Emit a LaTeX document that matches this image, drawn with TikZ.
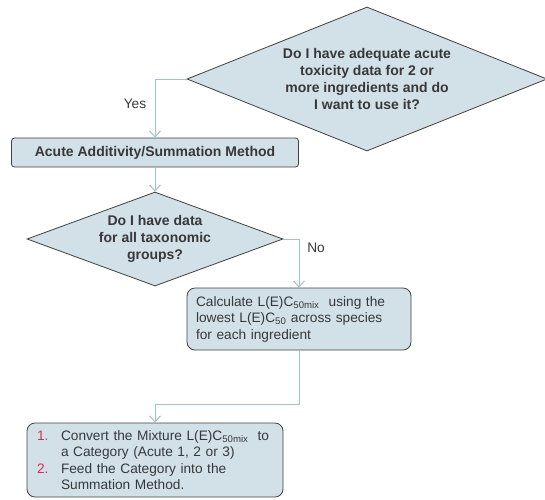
\documentclass[tikz,border=0pt]{standalone}
\usepackage{fontspec}
\setmainfont{Liberation Sans}
\usetikzlibrary{shapes.geometric,arrows.meta}
\definecolor{boxfill}{HTML}{D2E1E8}
\definecolor{boxline}{HTML}{404040}
\definecolor{flow}{HTML}{9DC3D2}
\definecolor{txt}{HTML}{383838}
\definecolor{numred}{HTML}{E0285A}
\tikzset{
  shapebase/.style={fill=boxfill, draw=boxline, line width=0.8pt, text=txt, inner sep=0pt,
    font=\fontsize{13.7}{16.5}\selectfont},
  decision/.style={shapebase, diamond, font=\bfseries\fontsize{14}{17}\selectfont, align=center},
  stepbox/.style={shapebase, rectangle, rounded corners=#1},
  flowline/.style={draw=flow, line width=1pt, -{Straight Barb[length=6pt,width=11pt,line width=1pt]}},
  plainline/.style={draw=flow, line width=1pt},
  lbl/.style={text=txt, font=\fontsize{13.7}{15}\selectfont}
}
\begin{document}
\begin{tikzpicture}[x=1pt,y=-1pt]
\useasboundingbox (0,0) rectangle (545,499);

% first decision
\node[decision, aspect=2.5, minimum width=360pt, minimum height=144pt] (d1) at (367,79)
  {Do I have adequate acute\\toxicity data for 2 or\\more ingredients and do\\I want to use it?};

% summation method bar
\node[stepbox=3pt, minimum width=287pt, minimum height=29pt, font=\bfseries\fontsize{14}{16}\selectfont]
  (b1) at (155,152.5) {Acute Additivity/Summation Method};

% second decision
\node[decision, aspect=2.72, minimum width=256pt, minimum height=94pt] (d2) at (155,239)
  {Do I have data\\for all taxonomic\\groups?};

% calculation box
\node[stepbox=8pt, minimum width=224pt, minimum height=62pt, text width=206pt, align=left,
  font=\fontsize{13.7}{16.5}\selectfont] (b2) at (299,319)
  {Calculate L(E)C\textsubscript{50mix}\ \ using the\\lowest L(E)C\textsubscript{50} across species\\for each ingredient};

% conversion box
\node[stepbox=8pt, minimum width=256pt, minimum height=74pt, text width=236pt, align=left,
  font=\fontsize{13.7}{16.3}\selectfont] (b3) at (155,460)
  {\makebox[24pt][l]{\color{numred}1.}Convert the Mixture L(E)C\textsubscript{50mix}\ \ to\\
   \hspace*{24pt}a Category (Acute 1, 2 or 3)\\
   \makebox[24pt][l]{\color{numred}2.}Feed the Category into the\\
   \hspace*{24pt}Summation Method.};

% connectors
\coordinate (bend) at (155,404);
\draw[flowline] (d1.west) -| (b1.north);
\draw[flowline] (b1.south) -- (d2.north);
\draw[flowline] (d2.east) -| (b2.north);
\draw[plainline] (b2.south) |- (bend);
\draw[flowline] (bend) -- (b3.north);

% branch labels
\node[lbl] (yes) at (135,104) {Yes};
\node[lbl] (no) at (316,248) {No};
\end{tikzpicture}
\end{document}
